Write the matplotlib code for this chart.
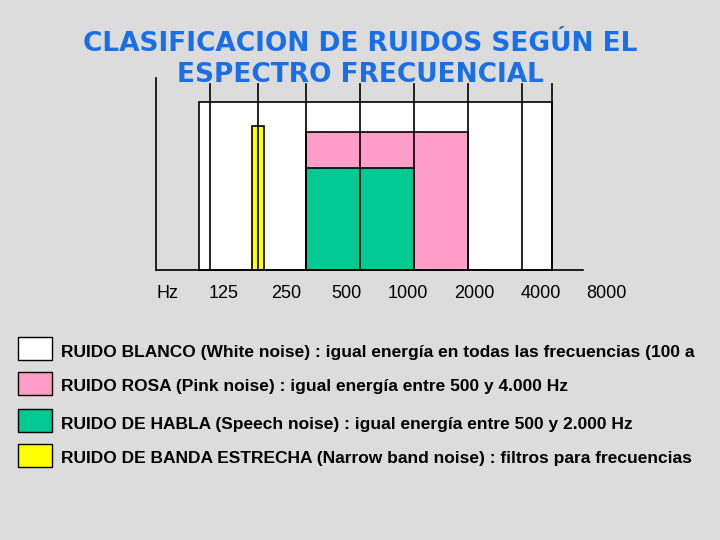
import matplotlib
matplotlib.use("Agg")
import matplotlib.pyplot as plt
from matplotlib.patches import Rectangle

# octave units (0 = 500 Hz line), levels in arbitrary px-like units
grid_lines = [-1.78, -0.89, 0, 1, 2, 3, 4, 4.56]
white_band = (-1.98, 4.56, 168)
pink_band = (0, 3, 138)
green_band = (0, 2, 102)
yellow_band = (-1.0, -0.78, 144)
tick_labels = ["Hz", "125", "250", "500", "1000", "2000", "4000", "8000"]
tick_pos = [-2.56, -1.52, -0.37, 0.74, 1.89, 3.11, 4.35, 5.56]
legend_colors = ["white", "#ff9dc9", "#00c994", "#ffff00"]
legend_texts = [
    "RUIDO BLANCO (White noise) : igual energía en todas las frecuencias (100 a",
    "RUIDO ROSA (Pink noise) : igual energía entre 500 y 4.000 Hz",
    "RUIDO DE HABLA (Speech noise) : igual energía entre 500 y 2.000 Hz",
    "RUIDO DE BANDA ESTRECHA (Narrow band noise) : filtros para frecuencias",
]

fig = plt.figure(figsize=(7.2, 5.4), dpi=100)
fig.patch.set_facecolor("#dcdcdc")
ax = fig.add_axes([0, 0, 1, 1])
ax.set_xlim(-306/54, (720-306)/54)
ax.set_ylim(-270, 270)
ax.axis("off")
lw = 1.2

def band(b, color, z):
    ax.add_patch(Rectangle((b[0], 0), b[1]-b[0], b[2], facecolor=color,
                           edgecolor="black", lw=lw, zorder=z))

band(white_band, "white", 1)
band(pink_band, legend_colors[1], 2)
band(green_band, legend_colors[2], 3)
band(yellow_band, legend_colors[3], 3)
for g in grid_lines:
    ax.plot([g, g], [0, 186], color="black", lw=lw, zorder=4)
ax.plot([-2.78, -2.78], [0, 192], color="black", lw=lw, zorder=4)
ax.plot([-2.78, 5.13], [0, 0], color="black", lw=lw, zorder=4)
for t, p in zip(tick_labels, tick_pos):
    ax.text(p, -23, t, ha="center", va="center", fontsize=13,
            family="Liberation Sans")

fig.text(0.5, 1-44/540, "CLASIFICACION DE RUIDOS SEGÚN EL", ha="center", va="center",
         fontsize=19, fontweight="bold", color="#1a6fe6", family="DejaVu Sans", zorder=10)
fig.text(0.5, 1-75/540, "ESPECTRO FRECUENCIAL", ha="center", va="center",
         fontsize=19, fontweight="bold", color="#1a6fe6", family="DejaVu Sans", zorder=10)

box_y = [337, 372, 409, 444]
for c, t, yb in zip(legend_colors, legend_texts, box_y):
    fig.patches.append(Rectangle((18/720, 1-(yb+23)/540), 34/720, 23/540,
                                 transform=fig.transFigure, facecolor=c,
                                 edgecolor="black", lw=1))
    fig.text(61/720, 1-(yb+15)/540, t, ha="left", va="center", fontsize=12.5,
             fontweight="bold", family="Liberation Sans")

fig.savefig("out.png", dpi=100, facecolor=fig.get_facecolor())
